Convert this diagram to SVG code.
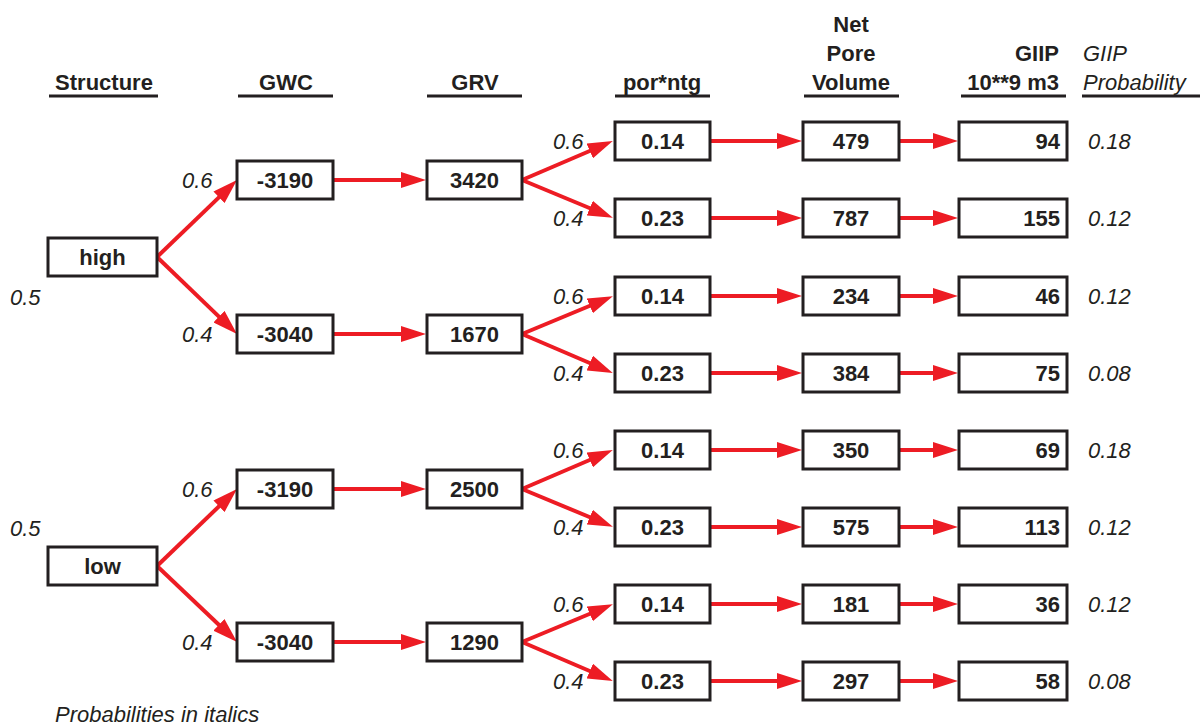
<svg xmlns="http://www.w3.org/2000/svg" width="1200" height="725" viewBox="0 0 1200 725">
<style>
.bx{fill:#fff;stroke:#231f20;stroke-width:3}
.t{font-family:"Liberation Sans",Arial,sans-serif;font-size:22px;font-weight:bold;fill:#231f20;text-anchor:middle}
.tr{font-family:"Liberation Sans",Arial,sans-serif;font-size:22px;font-weight:bold;fill:#231f20;text-anchor:end}
.p{font-family:"Liberation Sans",Arial,sans-serif;font-size:22px;font-style:italic;fill:#231f20}
.ul{stroke:#231f20;stroke-width:3}
.c{stroke:#ed1c24;stroke-width:4;fill:none;marker-end:url(#ah)}
</style>
<defs>
<marker id="ah" markerUnits="userSpaceOnUse" markerWidth="25" markerHeight="16" refX="10" refY="8" orient="auto" viewBox="0 0 25 16">
<path d="M0,0 L25,8 L0,16 z" fill="#ed1c24"/>
</marker>
</defs>
<rect width="1200" height="725" fill="#fff"/>
<g id="headers">
<text class="t" x="104" y="90">Structure</text>
<line class="ul" x1="49" y1="96" x2="158" y2="96"/>
<text class="t" x="286" y="90">GWC</text>
<line class="ul" x1="238" y1="96" x2="333" y2="96"/>
<text class="t" x="475" y="90">GRV</text>
<line class="ul" x1="427" y1="96" x2="522" y2="96"/>
<text class="t" x="662" y="90">por*ntg</text>
<line class="ul" x1="615" y1="96" x2="710" y2="96"/>
<text class="t" x="851" y="32">Net</text>
<text class="t" x="851" y="61">Pore</text>
<text class="t" x="851" y="90">Volume</text>
<line class="ul" x1="804" y1="96" x2="899" y2="96"/>
<text class="tr" x="1059" y="61">GIIP</text>
<text class="tr" x="1059" y="90">10**9 m3</text>
<line class="ul" x1="961" y1="96" x2="1066" y2="96"/>
<text class="p" x="1083" y="61">GIIP</text>
<text class="p" x="1083" y="90">Probability</text>
<line class="ul" x1="1082" y1="96" x2="1200" y2="96"/>
</g>
<g id="connectors">
<line class="c" x1="157" y1="257" x2="226.2" y2="190.4"/>
<line class="c" x1="157" y1="257" x2="226.2" y2="323.6"/>
<line class="c" x1="157" y1="566" x2="226.2" y2="499.4"/>
<line class="c" x1="157" y1="566" x2="226.2" y2="631.7"/>
<line class="c" x1="333" y1="180" x2="411" y2="180"/>
<line class="c" x1="333" y1="334" x2="411" y2="334"/>
<line class="c" x1="333" y1="489" x2="411" y2="489"/>
<line class="c" x1="333" y1="642" x2="411" y2="642"/>
<line class="c" x1="522" y1="180" x2="599" y2="147"/>
<line class="c" x1="522" y1="180" x2="599" y2="212"/>
<line class="c" x1="522" y1="334" x2="599" y2="302"/>
<line class="c" x1="522" y1="334" x2="599" y2="367"/>
<line class="c" x1="522" y1="489" x2="599" y2="456"/>
<line class="c" x1="522" y1="489" x2="599" y2="521"/>
<line class="c" x1="522" y1="642" x2="599" y2="610"/>
<line class="c" x1="522" y1="642" x2="599" y2="675"/>
<line class="c" x1="710" y1="141" x2="787" y2="141"/>
<line class="c" x1="710" y1="218" x2="787" y2="218"/>
<line class="c" x1="710" y1="296" x2="787" y2="296"/>
<line class="c" x1="710" y1="373" x2="787" y2="373"/>
<line class="c" x1="710" y1="450" x2="787" y2="450"/>
<line class="c" x1="710" y1="527" x2="787" y2="527"/>
<line class="c" x1="710" y1="604" x2="787" y2="604"/>
<line class="c" x1="710" y1="681" x2="787" y2="681"/>
<line class="c" x1="899" y1="141" x2="943" y2="141"/>
<line class="c" x1="899" y1="218" x2="943" y2="218"/>
<line class="c" x1="899" y1="296" x2="943" y2="296"/>
<line class="c" x1="899" y1="373" x2="943" y2="373"/>
<line class="c" x1="899" y1="450" x2="943" y2="450"/>
<line class="c" x1="899" y1="527" x2="943" y2="527"/>
<line class="c" x1="899" y1="604" x2="943" y2="604"/>
<line class="c" x1="899" y1="681" x2="943" y2="681"/>
</g>
<g id="labels">
<text class="p" x="10" y="305">0.5</text>
<text class="p" x="10" y="536">0.5</text>
<text class="p" x="182" y="188">0.6</text>
<text class="p" x="182" y="342">0.4</text>
<text class="p" x="182" y="497">0.6</text>
<text class="p" x="182" y="650">0.4</text>
<text class="p" x="553" y="149">0.6</text>
<text class="p" x="553" y="226">0.4</text>
<text class="p" x="553" y="304">0.6</text>
<text class="p" x="553" y="381">0.4</text>
<text class="p" x="553" y="458">0.6</text>
<text class="p" x="553" y="535">0.4</text>
<text class="p" x="553" y="612">0.6</text>
<text class="p" x="553" y="689">0.4</text>
<text class="p" x="1088" y="149">0.18</text>
<text class="p" x="1088" y="226">0.12</text>
<text class="p" x="1088" y="304">0.12</text>
<text class="p" x="1088" y="381">0.08</text>
<text class="p" x="1088" y="458">0.18</text>
<text class="p" x="1088" y="535">0.12</text>
<text class="p" x="1088" y="612">0.12</text>
<text class="p" x="1088" y="689">0.08</text>
<text class="p" x="55" y="722">Probabilities in italics</text>
</g>
<g id="n-high"><rect class="bx" x="48" y="238" width="109" height="38"/><text class="t" x="102.5" y="265">high</text></g>
<g id="n-low"><rect class="bx" x="48" y="547" width="109" height="38"/><text class="t" x="102.5" y="574">low</text></g>
<g id="n-gwc1"><rect class="bx" x="237" y="161" width="96" height="38"/><text class="t" x="285" y="188">-3190</text></g>
<g id="n-gwc2"><rect class="bx" x="237" y="315" width="96" height="38"/><text class="t" x="285" y="342">-3040</text></g>
<g id="n-gwc3"><rect class="bx" x="237" y="470" width="96" height="38"/><text class="t" x="285" y="497">-3190</text></g>
<g id="n-gwc4"><rect class="bx" x="237" y="623" width="96" height="38"/><text class="t" x="285" y="650">-3040</text></g>
<g id="n-grv1"><rect class="bx" x="427" y="161" width="95" height="38"/><text class="t" x="474.5" y="188">3420</text></g>
<g id="n-grv2"><rect class="bx" x="427" y="315" width="95" height="38"/><text class="t" x="474.5" y="342">1670</text></g>
<g id="n-grv3"><rect class="bx" x="427" y="470" width="95" height="38"/><text class="t" x="474.5" y="497">2500</text></g>
<g id="n-grv4"><rect class="bx" x="427" y="623" width="95" height="38"/><text class="t" x="474.5" y="650">1290</text></g>
<g id="n-por1"><rect class="bx" x="615" y="122" width="95" height="38"/><text class="t" x="662.5" y="149">0.14</text></g>
<g id="n-por2"><rect class="bx" x="615" y="199" width="95" height="38"/><text class="t" x="662.5" y="226">0.23</text></g>
<g id="n-por3"><rect class="bx" x="615" y="277" width="95" height="38"/><text class="t" x="662.5" y="304">0.14</text></g>
<g id="n-por4"><rect class="bx" x="615" y="354" width="95" height="38"/><text class="t" x="662.5" y="381">0.23</text></g>
<g id="n-por5"><rect class="bx" x="615" y="431" width="95" height="38"/><text class="t" x="662.5" y="458">0.14</text></g>
<g id="n-por6"><rect class="bx" x="615" y="508" width="95" height="38"/><text class="t" x="662.5" y="535">0.23</text></g>
<g id="n-por7"><rect class="bx" x="615" y="585" width="95" height="38"/><text class="t" x="662.5" y="612">0.14</text></g>
<g id="n-por8"><rect class="bx" x="615" y="662" width="95" height="38"/><text class="t" x="662.5" y="689">0.23</text></g>
<g id="n-npv1"><rect class="bx" x="803" y="122" width="96" height="38"/><text class="t" x="851" y="149">479</text></g>
<g id="n-npv2"><rect class="bx" x="803" y="199" width="96" height="38"/><text class="t" x="851" y="226">787</text></g>
<g id="n-npv3"><rect class="bx" x="803" y="277" width="96" height="38"/><text class="t" x="851" y="304">234</text></g>
<g id="n-npv4"><rect class="bx" x="803" y="354" width="96" height="38"/><text class="t" x="851" y="381">384</text></g>
<g id="n-npv5"><rect class="bx" x="803" y="431" width="96" height="38"/><text class="t" x="851" y="458">350</text></g>
<g id="n-npv6"><rect class="bx" x="803" y="508" width="96" height="38"/><text class="t" x="851" y="535">575</text></g>
<g id="n-npv7"><rect class="bx" x="803" y="585" width="96" height="38"/><text class="t" x="851" y="612">181</text></g>
<g id="n-npv8"><rect class="bx" x="803" y="662" width="96" height="38"/><text class="t" x="851" y="689">297</text></g>
<g id="n-giip1"><rect class="bx" x="959" y="122" width="108" height="38"/><text class="tr" x="1060" y="149">94</text></g>
<g id="n-giip2"><rect class="bx" x="959" y="199" width="108" height="38"/><text class="tr" x="1060" y="226">155</text></g>
<g id="n-giip3"><rect class="bx" x="959" y="277" width="108" height="38"/><text class="tr" x="1060" y="304">46</text></g>
<g id="n-giip4"><rect class="bx" x="959" y="354" width="108" height="38"/><text class="tr" x="1060" y="381">75</text></g>
<g id="n-giip5"><rect class="bx" x="959" y="431" width="108" height="38"/><text class="tr" x="1060" y="458">69</text></g>
<g id="n-giip6"><rect class="bx" x="959" y="508" width="108" height="38"/><text class="tr" x="1060" y="535">113</text></g>
<g id="n-giip7"><rect class="bx" x="959" y="585" width="108" height="38"/><text class="tr" x="1060" y="612">36</text></g>
<g id="n-giip8"><rect class="bx" x="959" y="662" width="108" height="38"/><text class="tr" x="1060" y="689">58</text></g>
</svg>
